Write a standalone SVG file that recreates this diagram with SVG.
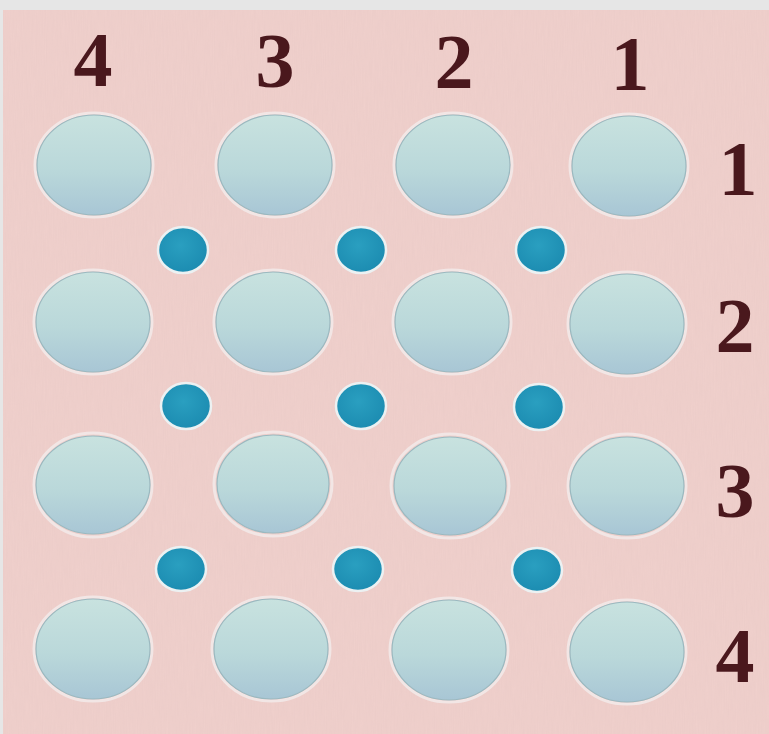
<svg xmlns="http://www.w3.org/2000/svg" width="769" height="734" viewBox="0 0 769 734">
<defs>
<linearGradient id="big" x1="0" y1="0" x2="0" y2="1">
<stop offset="0" stop-color="#c8e2df"/>
<stop offset="0.55" stop-color="#bad8da"/>
<stop offset="1" stop-color="#a8c6d5"/>
</linearGradient>
<radialGradient id="small" cx="0.45" cy="0.4" r="0.6">
<stop offset="0" stop-color="#2a9fc0"/>
<stop offset="1" stop-color="#1c8cb1"/>
</radialGradient>
<filter id="paper" x="0" y="0" width="1" height="1">
<feTurbulence type="fractalNoise" baseFrequency="0.9 0.05" numOctaves="2" seed="4" result="n"/>
<feColorMatrix type="matrix" values="0 0 0 0 0.55  0 0 0 0 0.4  0 0 0 0 0.4  0 0 0 0.35 0" in="n"/>
</filter>
<style>
.big{fill:url(#big);stroke:#9ab9c0;stroke-width:1.2}
.halo{fill:none;stroke:#f2e6e5;stroke-width:3}
.sm{fill:url(#small);stroke:#ecf1f2;stroke-width:2.5}
.num{font-family:'Liberation Serif','Times New Roman',serif;font-weight:bold;font-size:78px;fill:#4a181d;text-anchor:middle}
</style>
</defs>
<rect x="0" y="0" width="769" height="734" fill="#e6e6e6"/>
<rect x="3" y="10" width="766" height="724" fill="#f0d0cc"/>
<rect x="3" y="10" width="766" height="724" filter="url(#paper)" opacity="0.3"/>

<g id="col-labels">
<text class="num" x="93" y="86">4</text>
<text class="num" x="275" y="87">3</text>
<text class="num" x="454" y="88">2</text>
<text class="num" x="630" y="90">1</text>
</g>
<g id="row-labels">
<text class="num" x="738" y="195">1</text>
<text class="num" x="735" y="352">2</text>
<text class="num" x="735" y="517">3</text>
<text class="num" x="735" y="682">4</text>
</g>

<g id="big-circles">
<g id="r1c4"><ellipse class="halo" cx="94" cy="165" rx="59" ry="52"/><ellipse class="big" cx="94" cy="165" rx="57" ry="50"/></g>
<g id="r1c3"><ellipse class="halo" cx="275" cy="165" rx="59" ry="52"/><ellipse class="big" cx="275" cy="165" rx="57" ry="50"/></g>
<g id="r1c2"><ellipse class="halo" cx="453" cy="165" rx="59" ry="52"/><ellipse class="big" cx="453" cy="165" rx="57" ry="50"/></g>
<g id="r1c1"><ellipse class="halo" cx="629" cy="166" rx="59" ry="52"/><ellipse class="big" cx="629" cy="166" rx="57" ry="50"/></g>

<g id="r2c4"><ellipse class="halo" cx="93" cy="322" rx="59" ry="52"/><ellipse class="big" cx="93" cy="322" rx="57" ry="50"/></g>
<g id="r2c3"><ellipse class="halo" cx="273" cy="322" rx="59" ry="52"/><ellipse class="big" cx="273" cy="322" rx="57" ry="50"/></g>
<g id="r2c2"><ellipse class="halo" cx="452" cy="322" rx="59" ry="52"/><ellipse class="big" cx="452" cy="322" rx="57" ry="50"/></g>
<g id="r2c1"><ellipse class="halo" cx="627" cy="324" rx="59" ry="52"/><ellipse class="big" cx="627" cy="324" rx="57" ry="50"/></g>

<g id="r3c4"><ellipse class="halo" cx="93" cy="485" rx="59" ry="52"/><ellipse class="big" cx="93" cy="485" rx="57" ry="49"/></g>
<g id="r3c3"><ellipse class="halo" cx="273" cy="484" rx="59" ry="52"/><ellipse class="big" cx="273" cy="484" rx="56" ry="49"/></g>
<g id="r3c2"><ellipse class="halo" cx="450" cy="486" rx="59" ry="52"/><ellipse class="big" cx="450" cy="486" rx="56" ry="49"/></g>
<g id="r3c1"><ellipse class="halo" cx="627" cy="486" rx="59" ry="52"/><ellipse class="big" cx="627" cy="486" rx="57" ry="49"/></g>

<g id="r4c4"><ellipse class="halo" cx="93" cy="649" rx="59" ry="52"/><ellipse class="big" cx="93" cy="649" rx="57" ry="50"/></g>
<g id="r4c3"><ellipse class="halo" cx="271" cy="649" rx="59" ry="52"/><ellipse class="big" cx="271" cy="649" rx="57" ry="50"/></g>
<g id="r4c2"><ellipse class="halo" cx="449" cy="650" rx="59" ry="52"/><ellipse class="big" cx="449" cy="650" rx="57" ry="50"/></g>
<g id="r4c1"><ellipse class="halo" cx="627" cy="652" rx="59" ry="52"/><ellipse class="big" cx="627" cy="652" rx="57" ry="50"/></g>
</g>

<g id="small-dots">
<ellipse id="d1a" class="sm" cx="183" cy="250" rx="25" ry="23"/>
<ellipse id="d1b" class="sm" cx="361" cy="250" rx="25" ry="23"/>
<ellipse id="d1c" class="sm" cx="541" cy="250" rx="25" ry="23"/>
<ellipse id="d2a" class="sm" cx="186" cy="406" rx="25" ry="23"/>
<ellipse id="d2b" class="sm" cx="361" cy="406" rx="25" ry="23"/>
<ellipse id="d2c" class="sm" cx="539" cy="407" rx="25" ry="23"/>
<ellipse id="d3a" class="sm" cx="181" cy="569" rx="25" ry="22"/>
<ellipse id="d3b" class="sm" cx="358" cy="569" rx="25" ry="22"/>
<ellipse id="d3c" class="sm" cx="537" cy="570" rx="25" ry="22"/>
</g>
</svg>
